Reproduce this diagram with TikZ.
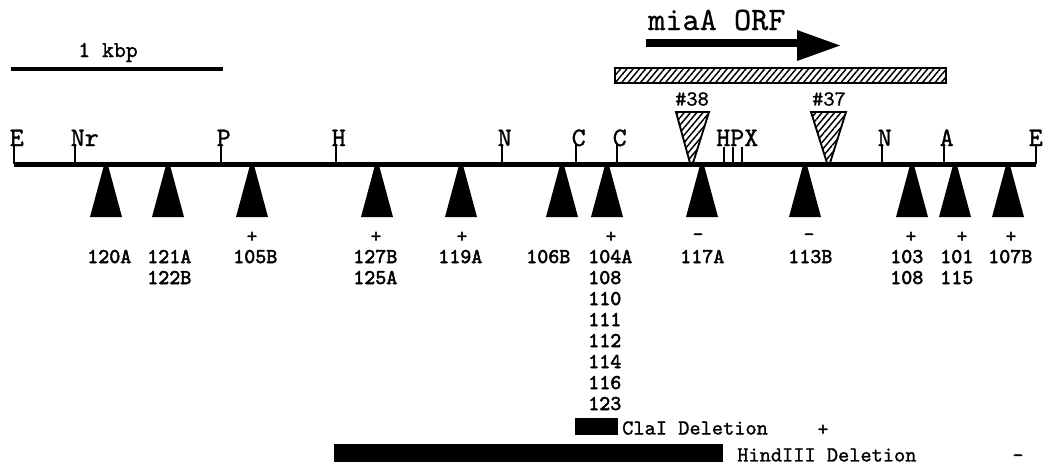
\documentclass[tikz,border=0pt]{standalone}
\usepackage{fontspec}
\newfontfamily\mapmono{lmmono10-regular.otf}[FakeBold=1.2]
\newfontfamily\mapmonob{lmmono10-regular.otf}[FakeBold=2.4]
\newfontfamily\mapmonol{lmmono10-regular.otf}[FakeBold=0.6]
\usetikzlibrary{patterns.meta}
\begin{document}
\begin{tikzpicture}[x=0.75pt,y=-0.75pt,
  site/.style={line width=1.5pt},
  sitelabel/.style={anchor=base west, inner sep=0pt, font=\mapmono\fontsize{20}{20}\selectfont},
  numtext/.style={anchor=base west, inner sep=0pt, font=\mapmonob\fontsize{15.75}{15.75}\selectfont},
  sign/.style={inner sep=0pt, font=\mapmonob\fontsize{15}{15}\selectfont},
  small/.style={inner sep=0pt, font=\mapmono\fontsize{16}{16}\selectfont},
  hatch/.style={draw=black, line width=1.4pt,
    pattern={Lines[angle=50,distance=3.6pt,line width=1.1pt]}},
]
\useasboundingbox (0,0) rectangle (1043,465);

% ---- scale bar
\coordinate (kb0) at (11,69);
\coordinate (kb1) at (223,69);
\draw[line width=2.3pt] (kb0) -- (kb1);
\node[anchor=base west, inner sep=0pt, font=\mapmono\fontsize{17}{17}\selectfont] (kbp) at (78,57) {1 kbp};

% ---- miaA open reading frame
\node[anchor=base west, inner sep=0pt, font=\mapmonol\fontsize{24.5}{24.5}\selectfont] (orf) at (648,30) {miaA ORF};
\fill (646,39) rectangle (800,46.5);
\fill (797,30) -- (840,45.5) -- (797,61) -- cycle;

% ---- complementing fragment
\path[hatch] (615,68) rectangle (946,83);

% ---- restriction map
\coordinate (left) at (14,164.5);
\coordinate (right) at (1036,164.5);
\draw[line width=3.75pt] (left) -- (right);

\foreach \x/\dx/\lab/\nm in {14/4.5/E/E1, 75/4.5/Nr/Nr, 221/4.5/P/P, 336/4.5/H/H1, 502/4.5/N/N1,
                             576/4.5/C/C1, 617/4.5/C/C2, 882/4.5/N/N2, 944/4.5/A/A, 1036/7.5/E/E2} {
  \draw[site] (\x,164) -- (\x,144);
  \node[sitelabel] (site-\nm) at (\x-\dx,146) {\lab};
}
% H, P and X sites close together
\foreach \x in {724,733,742} \draw[site] (\x,164) -- (\x,147);
\node[sitelabel] (site-HPX) at (716,146) {HPX};

% ---- mini-Mu insertions #38 and #37
\path[hatch] (676,112) -- (709,112) -- (693,163) -- (690,163) -- cycle;
\path[hatch] (811,112) -- (846,112) -- (830,163) -- (827,163) -- cycle;
\node[small] (i38) at (692,99) {\#38};
\node[small] (i37) at (829,99) {\#37};

% ---- transposon insertions below the map
\foreach \x in {106,168,252,377,461,562,607,702,805,912,955,1008}
  \fill (\x-2.5,167) -- (\x+2.5,167) -- (\x+16,217) -- (\x-16,217) -- cycle;

% phenotype signs
\foreach \x/\s/\nm in {252/+/a,376/+/b,462/+/c,611/+/d,698/-/e,809/-/f,911/+/g,962/+/h,1011/+/i}
  \node[sign] (sg-\nm) at (\x,237) {\s};

% insertion names, one column per site
\foreach \x/\lst/\nm in {87/{120A}/a, 147/{121A,122B}/b, 233/{105B}/c, 353/{127B,125A}/d,
                         438/{119A}/e, 526/{106B}/f, 588/{104A,108,110,111,112,114,116,123}/g,
                         680/{117A}/h, 788/{113B}/i, 890/{103,108}/j, 940/{101,115}/k, 988/{107B}/l} {
  \foreach \t [count=\i] in \lst
    \node[numtext] (n-\nm-\i) at (\x,242+21*\i) {\t};
}

% ---- deletions
\fill (575,418) rectangle (618,435);
\node[small, anchor=west] (cla) at (622,428) {ClaI Deletion};
\node[sign] (cla-s) at (823,430) {+};
\fill (334,444) rectangle (723,462);
\node[small, anchor=west] (hind) at (737,455) {HindIII Deletion};
\node[sign] (hind-s) at (1018,458) {-};
\end{tikzpicture}
\end{document}
